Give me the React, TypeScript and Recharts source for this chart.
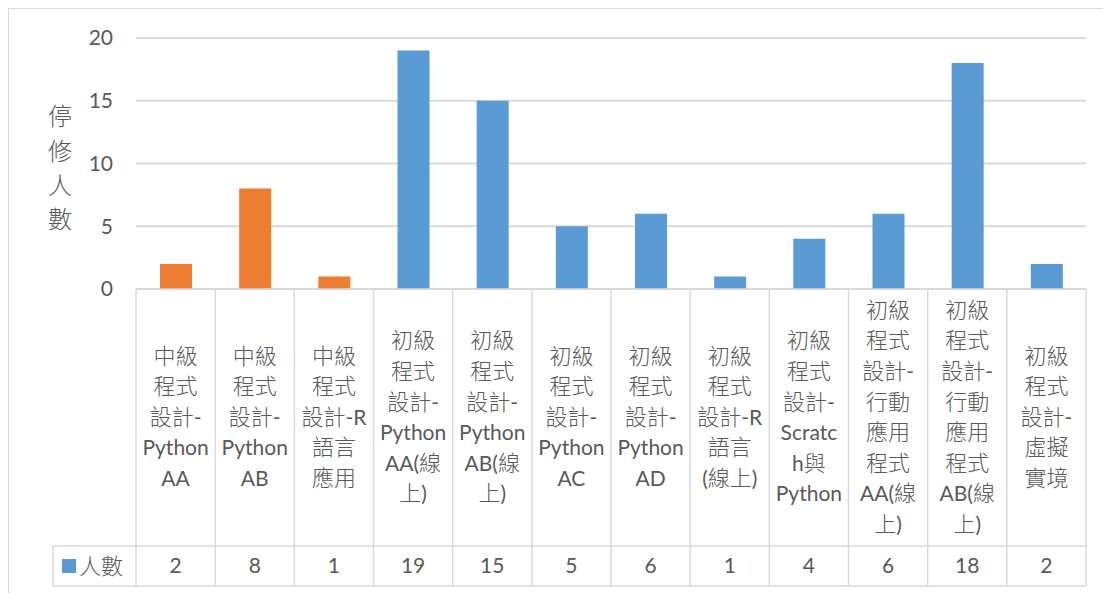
import React from 'react';
import { BarChart, Bar, XAxis, YAxis, CartesianGrid, Cell } from 'recharts';

const CATEGORIES = [
  '中級程式設計-PythonAA',
  '中級程式設計-PythonAB',
  '中級程式設計-R語言應用',
  '初級程式設計-PythonAA(線上)',
  '初級程式設計-PythonAB(線上)',
  '初級程式設計-PythonAC',
  '初級程式設計-PythonAD',
  '初級程式設計-R語言(線上)',
  '初級程式設計-Scratch與Python',
  '初級程式設計-行動應用程式AA(線上)',
  '初級程式設計-行動應用程式AB(線上)',
  '初級程式設計-虛擬實境',
];

// how Excel wrapped each category inside its table cell
const LABEL_LINES = [
  ['中級', '程式', '設計-', 'Python', 'AA'],
  ['中級', '程式', '設計-', 'Python', 'AB'],
  ['中級', '程式', '設計-R', '語言', '應用'],
  ['初級', '程式', '設計-', 'Python', 'AA(線', '上)'],
  ['初級', '程式', '設計-', 'Python', 'AB(線', '上)'],
  ['初級', '程式', '設計-', 'Python', 'AC'],
  ['初級', '程式', '設計-', 'Python', 'AD'],
  ['初級', '程式', '設計-R', '語言', '(線上)'],
  ['初級', '程式', '設計-', 'Scratc', 'h與', 'Python'],
  ['初級', '程式', '設計-', '行動', '應用', '程式', 'AA(線', '上)'],
  ['初級', '程式', '設計-', '行動', '應用', '程式', 'AB(線', '上)'],
  ['初級', '程式', '設計-', '虛擬', '實境'],
];

const COUNTS = [2, 8, 1, 19, 15, 5, 6, 1, 4, 6, 18, 2];
const LEVEL = ['mid', 'mid', 'mid', 'beg', 'beg', 'beg', 'beg', 'beg', 'beg', 'beg', 'beg', 'beg'];
const Y_TICKS = [0, 5, 10, 15, 20];
const SERIES_NAME = '人數';
const Y_TITLE = ['停', '修', '人', '數'];

const data = CATEGORIES.map((name, i) => ({ name, value: COUNTS[i], level: LEVEL[i] }));

const W = 1103;
const H = 593;
const PLOT_LEFT = 136;
const PLOT_RIGHT = 1086;
const PLOT_TOP = 38;
const AXIS_Y = 289;
const ROW_Y = 546;
const TABLE_BOTTOM = 586;
const LEGEND_LEFT = 53;
const BAND = (PLOT_RIGHT - PLOT_LEFT) / CATEGORIES.length;
const LINE_H = 30.6;

const TEXT = '#595959';
const GRID = '#d9d9d9';
const FONT = 'Lato, "Noto Sans CJK TC", sans-serif';
const CJK_FONT = '"Noto Sans CJK TC", sans-serif';

// CJK runs get a lighter face, like the JhengHei in the original
const runs = (s: string) =>
  s
    .split(/([\u3400-\u9fff]+)/)
    .filter((r) => r.length > 0)
    .map((r, i) =>
      /[\u3400-\u9fff]/.test(r) ? (
        <tspan key={i} fontFamily={CJK_FONT} fontWeight={300} fontSize={22}>
          {r}
        </tspan>
      ) : (
        <tspan key={i}>{r}</tspan>
      )
    );

const CategoryCell = (props: any) => {
  const { x, index } = props;
  const lines = LABEL_LINES[index] || [];
  const mid = (AXIS_Y + ROW_Y) / 2;
  const first = mid - ((lines.length - 1) / 2) * LINE_H;
  const left = x - BAND / 2;
  return (
    <g>
      {index === 0 && (
        <g>
          <line x1={LEGEND_LEFT} y1={ROW_Y} x2={PLOT_RIGHT} y2={ROW_Y} stroke={GRID} strokeWidth={1.5} />
          <line x1={LEGEND_LEFT} y1={TABLE_BOTTOM} x2={PLOT_RIGHT} y2={TABLE_BOTTOM} stroke={GRID} strokeWidth={1.5} />
          <line x1={LEGEND_LEFT} y1={ROW_Y} x2={LEGEND_LEFT} y2={TABLE_BOTTOM} stroke={GRID} strokeWidth={1.5} />
          <rect x={62} y={559} width={14} height={14} fill="#5B9BD5" />
          <text x={79} y={566} dy="0.35em" fill={TEXT} fontSize={22} fontFamily={FONT}>
            {runs(SERIES_NAME)}
          </text>
        </g>
      )}
      <line x1={left} y1={AXIS_Y} x2={left} y2={TABLE_BOTTOM} stroke={GRID} strokeWidth={1.5} />
      {index === CATEGORIES.length - 1 && (
        <line x1={left + BAND} y1={AXIS_Y} x2={left + BAND} y2={TABLE_BOTTOM} stroke={GRID} strokeWidth={1.5} />
      )}
      {lines.map((ln, k) => (
        <text
          key={k}
          x={x}
          y={first + k * LINE_H}
          dy="0.35em"
          textAnchor="middle"
          fill={TEXT}
          fontSize={21}
          fontFamily={FONT}
        >
          {runs(ln)}
        </text>
      ))}
      <text x={x} y={566} dy="0.35em" textAnchor="middle" fill={TEXT} fontSize={21} fontFamily={FONT}>
        {COUNTS[index]}
      </text>
    </g>
  );
};

const YTitle = () => (
  <g>
    {Y_TITLE.map((ch, i) => (
      <text
        key={ch}
        x={60}
        y={117 + i * 34.3}
        dy="0.35em"
        textAnchor="middle"
        fill={TEXT}
        fontSize={24}
        fontWeight={300}
        fontFamily={CJK_FONT}
      >
        {ch}
      </text>
    ))}
  </g>
);

export default function App() {
  return (
    <div style={{ position: 'absolute', left: 0, top: 0, width: W, height: H, overflow: 'hidden', background: '#fff' }}>
      <div
        style={{
          position: 'absolute',
          left: 8,
          top: 8,
          width: W,
          height: H,
          border: '1.5px solid #d9d9d9',
          boxSizing: 'border-box',
        }}
      />
      <div style={{ position: 'absolute', left: 0, top: 0 }}>
        <BarChart
          width={W}
          height={H}
          data={data}
          margin={{ top: PLOT_TOP, right: W - PLOT_RIGHT, left: 0, bottom: 0 }}
        >
          <CartesianGrid vertical={false} stroke={GRID} strokeWidth={2} />
          <XAxis
            dataKey="name"
            interval={0}
            height={H - AXIS_Y}
            axisLine={{ stroke: GRID, strokeWidth: 1.5 }}
            tickLine={false}
            tick={(p: any) => <CategoryCell {...p} />}
          />
          <YAxis
            domain={[0, 20]}
            ticks={Y_TICKS}
            width={PLOT_LEFT}
            axisLine={false}
            tickLine={false}
            tickSize={0}
            tickMargin={23}
            tick={{ fill: TEXT, fontSize: 21, fontFamily: FONT }}
            label={{ content: () => <YTitle /> }}
          />
          <Bar dataKey="value" barSize={32} isAnimationActive={false}>
            {data.map((d, i) => (
              <Cell key={i} fill={d.level === 'mid' ? '#ED7D31' : '#5B9BD5'} />
            ))}
          </Bar>
        </BarChart>
      </div>
    </div>
  );
}
